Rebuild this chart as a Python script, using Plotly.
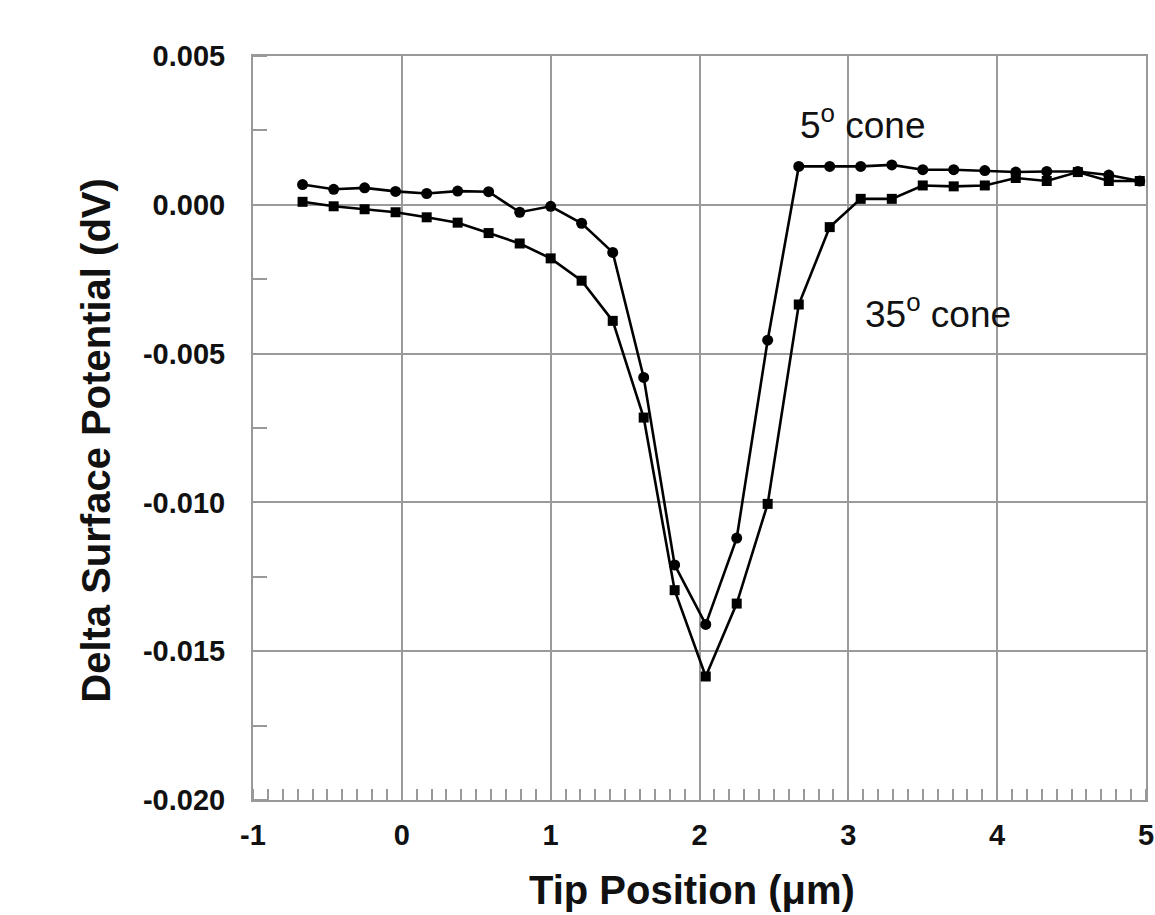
import plotly.graph_objects as go

# Tip position (um)
tip_x = [-0.667, -0.458, -0.25, -0.042, 0.167, 0.375, 0.583, 0.792, 1.0, 1.208,
         1.417, 1.625, 1.833, 2.042, 2.25, 2.458, 2.667, 2.875, 3.083, 3.292,
         3.5, 3.708, 3.917, 4.125, 4.333, 4.542, 4.75, 4.958]

# Delta surface potential (dV)
cone5 = [0.00068, 0.00052, 0.00057, 0.00045, 0.00038, 0.00046, 0.00044, -0.00025,
         -0.00005, -0.00062, -0.0016, -0.0058, -0.0121, -0.0141, -0.0112, -0.00455,
         0.00129, 0.00129, 0.00129, 0.00134, 0.00118, 0.00118, 0.00115, 0.0011,
         0.00112, 0.00112, 0.001, 0.0008]
cone35 = [0.0001, -0.00005, -0.00015, -0.00025, -0.00042, -0.0006, -0.00095, -0.0013,
          -0.0018, -0.00255, -0.0039, -0.00715, -0.01295, -0.01585, -0.0134, -0.01005,
          -0.00335, -0.00075, 0.0002, 0.0002, 0.00065, 0.00062, 0.00065, 0.0009,
          0.0008, 0.0011, 0.0008, 0.0008]

y_ticks = [0.005, 0.0, -0.005, -0.010, -0.015, -0.020]
y_labels = ["0.005", "0.000", "-0.005", "-0.010", "-0.015", "-0.020"]
x_ticks = [-1, 0, 1, 2, 3, 4, 5]
x_labels = ["-1", "0", "1", "2", "3", "4", "5"]

fig = go.Figure()
fig.add_trace(go.Scatter(x=tip_x, y=cone5, mode="lines+markers",
                         line=dict(color="black", width=2.6),
                         marker=dict(symbol="circle", size=11, color="black"),
                         name="5° cone"))
fig.add_trace(go.Scatter(x=tip_x, y=cone35, mode="lines+markers",
                         line=dict(color="black", width=2.6),
                         marker=dict(symbol="square", size=10, color="black"),
                         name="35° cone"))

FONT = "Liberation Sans, Arial, sans-serif"

fig.update_layout(
    width=1155, height=915,
    margin=dict(l=253, r=9, t=56, b=115),
    paper_bgcolor="white", plot_bgcolor="white",
    showlegend=False,
    font=dict(family=FONT, color="black"),
    annotations=[
        dict(x=3.10, y=0.00275, xref="x", yref="y", text="5<sup>o</sup> cone",
             showarrow=False, font=dict(size=37, color="#111")),
        dict(x=3.60, y=-0.0036, xref="x", yref="y", text="35<sup>o</sup> cone",
             showarrow=False, font=dict(size=37, color="#111")),
        dict(x=-0.176, y=0.484, xref="paper", yref="paper",
             text="<b>Delta Surface Potential (dV)</b>", textangle=-90,
             showarrow=False, xanchor="center", yanchor="middle",
             font=dict(size=40, color="#111")),
        dict(x=0.492, y=-0.121, xref="paper", yref="paper",
             text="<b>Tip Position (μm)</b>",
             showarrow=False, xanchor="center", yanchor="middle",
             font=dict(size=40, color="#111")),
    ],
)

fig.update_xaxes(
    range=[-1, 5], tickvals=x_ticks, ticktext=x_labels, automargin=False,
    showgrid=True, gridcolor="#9a9a9a", gridwidth=1.8,
    showline=True, linecolor="#999999", linewidth=2, mirror=True,
    ticks="", zeroline=False, ticklabelstandoff=8, ticklabeloverflow="allow",
    tickfont=dict(size=29, family=FONT, weight="bold", color="#111"),
    minor=dict(dtick=0.1, ticks="inside", ticklen=11, tickcolor="#999999",
               tickwidth=1.5, showgrid=False),
)
fig.update_yaxes(
    range=[-0.020, 0.005], tickvals=y_ticks, ticktext=y_labels, automargin=False,
    showgrid=True, gridcolor="#9a9a9a", gridwidth=1.8,
    showline=True, linecolor="#999999", linewidth=2, mirror=True,
    ticks="", zeroline=False, ticklabelstandoff=20, ticklabeloverflow="allow",
    tickfont=dict(size=29, family=FONT, weight="bold", color="#111"),
    minor=dict(dtick=0.0025, ticks="inside", ticklen=14, tickcolor="#999999",
               tickwidth=1.5, showgrid=False),
)

fig.write_html("out.html")
